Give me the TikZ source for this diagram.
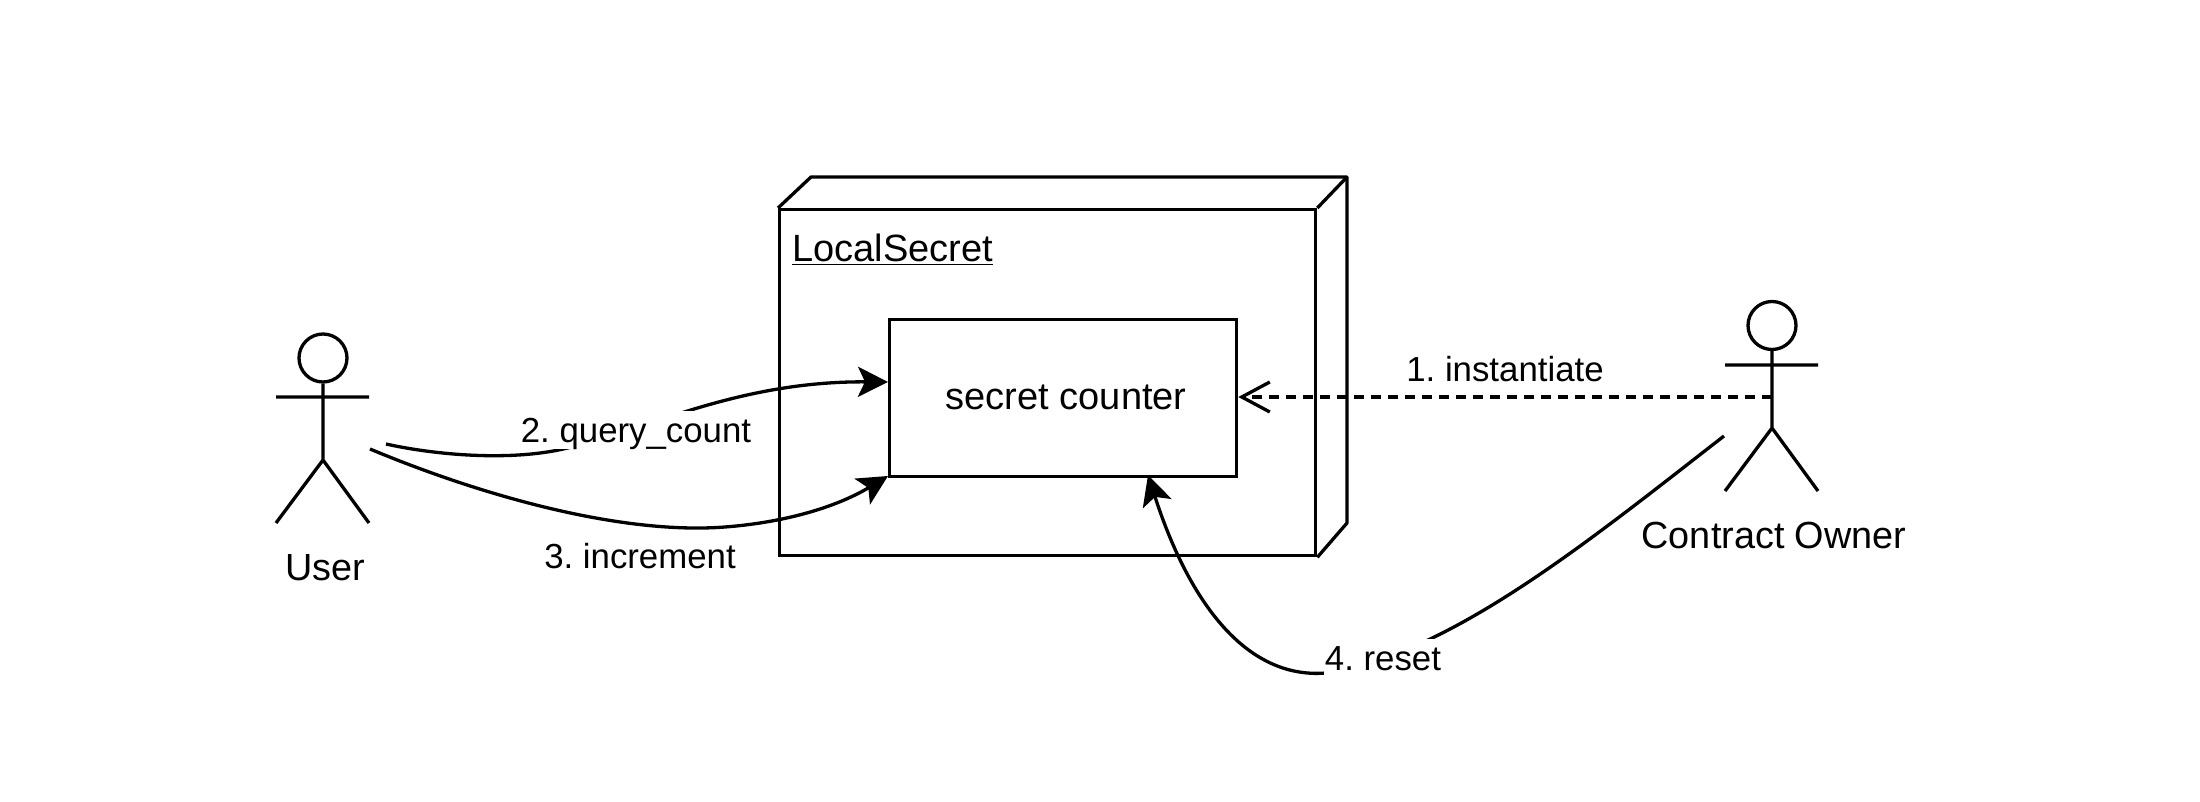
\documentclass[tikz,border=0pt]{standalone}
\usepackage{fontspec}
\setmainfont{Liberation Sans}
\usetikzlibrary{arrows.meta}
\tikzset{
  line/.style={draw=black,line width=1.65pt},
  boxnode/.style={line,fill=white,rectangle,inner sep=0pt,font=\fontsize{19}{22}\selectfont},
  actorlabel/.style={inner sep=0pt,font=\fontsize{18.9}{22}\selectfont},
  edgelabel/.style={fill=white,inner sep=0.5pt,text height=15pt,text depth=3pt,anchor=base,font=\fontsize{17.4}{20}\selectfont},
  plainlabel/.style={inner sep=0pt,font=\fontsize{17.4}{20}\selectfont},
  solidarrow/.style={line,-{Stealth[length=15pt,width=15pt,inset=3.5pt]}},
  openarrow/.style={line,dash pattern=on 5pt off 3.5pt,-{Straight Barb[length=14pt,width=15pt,line width=1.65pt]}},
  head/.style={line,circle,minimum size=24pt,inner sep=0pt}
}
\begin{document}
\frenchspacing
\begin{tikzpicture}[x=0.5pt,y=-0.5pt]
\useasboundingbox (0,0) rectangle (2200,802);
% LocalSecret deployment node
\node[boxnode,anchor=north west,minimum width=268pt,minimum height=173pt] (ls) at (778,208) {};
\draw[line,line join=round] (ls.north west) -- (811,177) -- (1347,177) -- (1347,523) -- (ls.south east);
\draw[line] (ls.north east) -- (1347,177);
\node[anchor=west,inner sep=0pt,font=\fontsize{19}{22}\selectfont] (lstitle) at (792,250) {\underline{LocalSecret}};
\node[boxnode,anchor=north west,minimum width=173.5pt,minimum height=78.5pt] (sc) at (888,317.5) {\hspace{3pt}secret counter};
% User
\node[head] (uh) at (323,358) {};
\coordinate (uhip) at (323,460);
\coordinate (uarmL) at (276,397);
\coordinate (uarmR) at (369,397);
\coordinate (ufootL) at (276,523);
\coordinate (ufootR) at (369,523);
\draw[line] (uh.south) -- (uhip) (uarmL) -- (uarmR) (ufootL) -- (uhip) -- (ufootR);
\node[actorlabel] (ul) at (325,568) {User};
% Contract owner
\node[head] (oh) at (1772,325.5) {};
\coordinate (ohip) at (1772,428);
\coordinate (oarmL) at (1725,365);
\coordinate (oarmR) at (1818,365);
\coordinate (ofootL) at (1725,491);
\coordinate (ofootR) at (1818,491);
\coordinate (obody) at (1772,397);
\draw[line] (oh.south) -- (ohip) (oarmL) -- (oarmR) (ofootL) -- (ohip) -- (ofootR);
\node[actorlabel] (ol) at (1774,535.5) {Contract Owner};
% connectors
\coordinate (u2) at (386,444);
\coordinate (u3) at (370,449);
\coordinate (o4) at (1724,436);
\coordinate (t2) at (888,382);
\coordinate (t3) at (888,476);
\coordinate (t4) at (1148,475);
\draw[openarrow] (obody) -- (sc.east |- obody);
\draw[solidarrow] (u2) .. controls (440,456) and (520,462) .. (575,446) .. controls (650,428) and (740,381) .. (t2);
\draw[solidarrow] (u3) .. controls (480,495) and (620,535) .. (725,527) .. controls (790,522) and (840,505) .. (t3);
\draw[solidarrow] (o4) .. controls (1590,540) and (1450,655) .. (1326,673) .. controls (1240,680) and (1185,590) .. (t4);
\node[plainlabel] (l1) at (1505,369.5) {1. instantiate};
\node[edgelabel] (l2) at (636,442) {2. query\_count};
\node[plainlabel] (l3) at (640,556.5) {3. increment};
\node[edgelabel] (l4) at (1383,670) {4. reset};
\end{tikzpicture}
\end{document}
